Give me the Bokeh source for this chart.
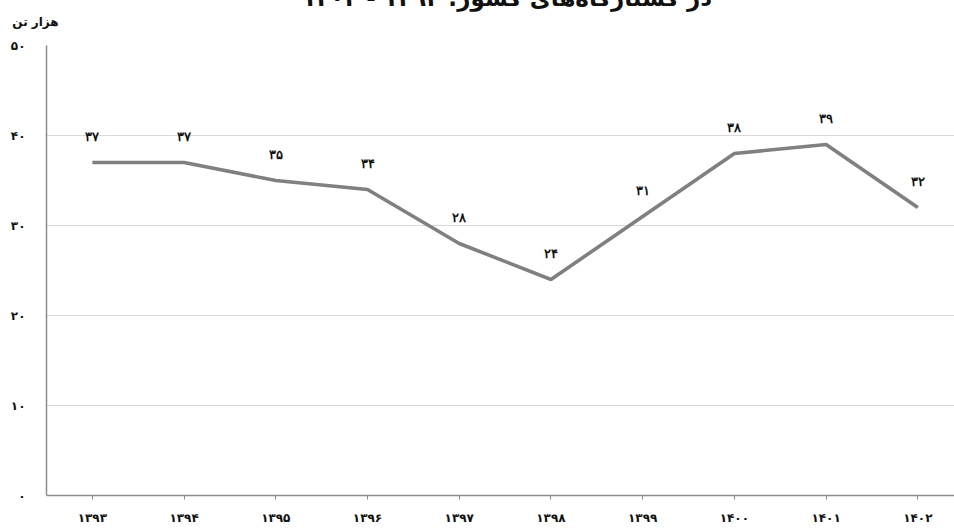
from bokeh.plotting import figure
from bokeh.models import Range1d, FixedTicker, Label, ColumnDataSource, LabelSet
from bokeh.embed import file_html
from bokeh.resources import INLINE

years = ["۱۳۹۳", "۱۳۹۴", "۱۳۹۵", "۱۳۹۶", "۱۳۹۷", "۱۳۹۸", "۱۳۹۹", "۱۴۰۰", "۱۴۰۱", "۱۴۰۲"]
values = [37, 37, 35, 34, 28, 24, 31, 38, 39, 32]
value_labels = ["۳۷", "۳۷", "۳۵", "۳۴", "۲۸", "۲۴", "۳۱", "۳۸", "۳۹", "۳۲"]
y_ticks = [0, 10, 20, 30, 40, 50]
y_tick_labels = ["۰", "۱۰", "۲۰", "۳۰", "۴۰", "۵۰"]
unit_label = "هزار تن"
title_line = "در کشتارگاه‌های کشور: ۱۳۹۳ - ۱۴۰۲"

FONT = "DejaVu Sans"

xs = list(range(len(years)))

p = figure(width=954, height=529, output_backend="svg", toolbar_location=None,
           title=None,
           x_range=Range1d(-0.5, 9.4), y_range=Range1d(0, 50),
           min_border_left=46, min_border_right=0, min_border_top=45,
           min_border_bottom=34)
p.outline_line_color = None
p.background_fill_color = "white"
p.border_fill_color = "white"

src = ColumnDataSource(dict(x=xs, y=values, lab=value_labels))
p.line("x", "y", source=src, line_color="#808080", line_width=3.6)

labels = LabelSet(x="x", y="y", text="lab", source=src, y_offset=26,
                  text_align="center", text_baseline="middle",
                  text_font=FONT, text_font_style="bold", text_font_size="13px",
                  text_color="#111111")
p.add_layout(labels)

# x axis
p.xaxis.ticker = FixedTicker(ticks=xs)
p.xaxis.major_label_overrides = {i: years[i] for i in xs}
p.xaxis.major_label_text_font = FONT
p.xaxis.major_label_text_font_style = "bold"
p.xaxis.major_label_text_font_size = "12px"
p.xaxis.major_label_text_color = "#111111"
p.xaxis.major_label_standoff = 11
p.xaxis.major_tick_in = 0
p.xaxis.major_tick_out = 4
p.xaxis.major_tick_line_color = "#8c8c8c"
p.xaxis.minor_tick_line_color = None
p.xaxis.axis_line_color = "#8c8c8c"
p.xaxis.axis_line_width = 1.5

# y axis
p.yaxis.ticker = FixedTicker(ticks=y_ticks)
p.yaxis.major_label_overrides = {t: l for t, l in zip(y_ticks, y_tick_labels)}
p.yaxis.major_label_text_font = FONT
p.yaxis.major_label_text_font_style = "bold"
p.yaxis.major_label_text_font_size = "12px"
p.yaxis.major_label_text_color = "#111111"
p.yaxis.major_label_standoff = 15
p.yaxis.major_tick_line_color = None
p.yaxis.minor_tick_line_color = None
p.yaxis.axis_line_color = "#8c8c8c"
p.yaxis.axis_line_width = 1.5

p.xgrid.grid_line_color = None
p.ygrid.grid_line_color = "#d9d9d9"
p.ygrid.grid_line_width = 1.2

# title line (only its lower part shows at the top edge, as in the source image)
p.add_layout(Label(x=4.5, y=48, x_offset=2, text=title_line,
                   x_units="data", y_units="screen",
                   text_align="center", text_baseline="alphabetic",
                   text_font=FONT, text_font_style="bold", text_font_size="23px",
                   text_color="#111111"), "above")

# unit label
p.add_layout(Label(x=-0.5, y=-2, x_offset=-11, text=unit_label,
                   x_units="data", y_units="screen",
                   text_align="center", text_baseline="alphabetic",
                   text_font=FONT, text_font_style="bold", text_font_size="12px",
                   text_color="#111111"), "above")

open("out.html", "w").write(file_html(p, INLINE))
